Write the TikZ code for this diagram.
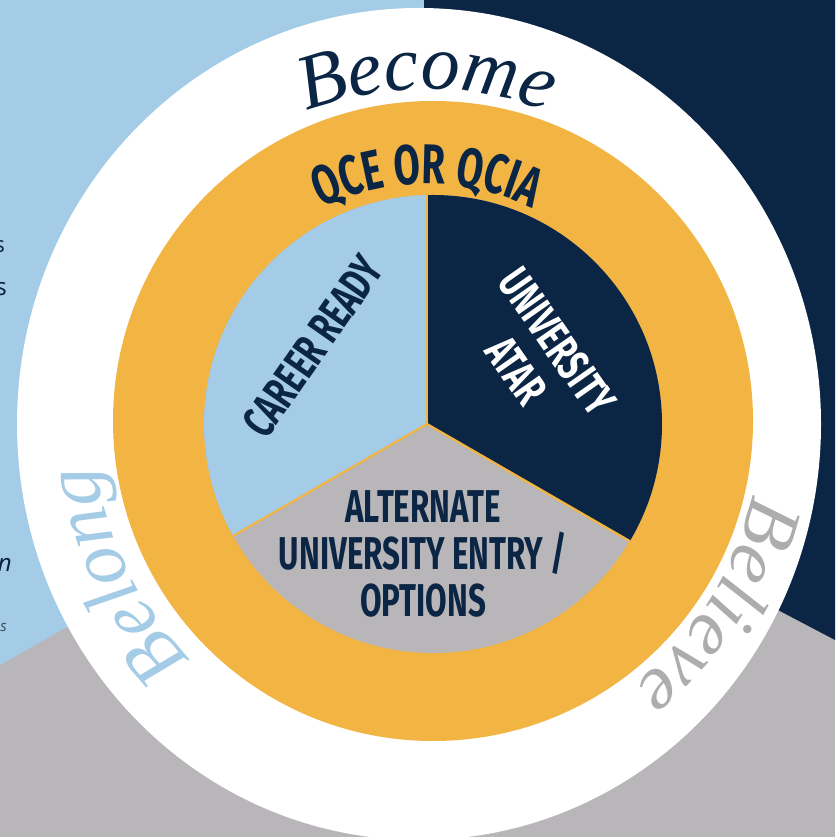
\documentclass[tikz,border=0pt]{standalone}
\usepackage{fontspec}
\usetikzlibrary{decorations.text}
\newfontfamily\bebas[FakeStretch=0.68]{Fira Sans}
\newfontfamily\handfont{Liberation Serif}
\newfontfamily\plainsans{Open Sans}
\definecolor{skyblue}{HTML}{A4CCE6}
\definecolor{navy}{HTML}{0B2545}
\definecolor{stone}{HTML}{B8B6B9}
\definecolor{gold}{HTML}{F2B443}
\definecolor{mist}{HTML}{ADACAE}

\begin{document}
\begin{tikzpicture}[x=1pt, y=1pt,
    caps/.style={font=\bebas\bfseries\fontsize{46}{47}\selectfont, align=center, inner sep=0pt},
    frag/.style={font=\plainsans, text=navy!85!black, inner sep=0pt, anchor=base east},
    divider/.style={gold, line width=2.2pt},
    ringtext/.style 2 args={decorate, decoration={text along path, text align=center, text color=#1, text={#2}}}
  ]
  \useasboundingbox (0,0) rectangle (835,837);
  \clip (0,0) rectangle (835,837);
  % backdrop
  \fill[stone] (0,0) rectangle (835,837);
  \fill[skyblue] (0,837) -- (424,837) -- (424,413) -- (0,172) -- cycle;
  \fill[navy] (424,837) -- (835,837) -- (835,197) -- (424,413) -- cycle;
  % text cut off at the left edge
  \node[frag, font=\plainsans\fontsize{22}{22}\selectfont] (fragA) at (5,584) {s};
  \node[frag, font=\plainsans\fontsize{24}{24}\selectfont] (fragB) at (7,541) {s};
  \node[frag, font=\plainsans\itshape\fontsize{24}{24}\selectfont] (fragC) at (12,265) {n};
  \node[frag, font=\plainsans\itshape\fontsize{15}{15}\selectfont, text=navy!60!gray] (fragD) at (7,205) {s};
  % rings
  \coordinate (c) at (427,413);
  \fill[white] (419,413) ellipse[x radius=402, y radius=416];
  \fill[gold] (433,416) circle[radius=320];
  \begin{scope}
    \clip (433,413) circle[radius=229];
    \coordinate (top) at (427,700);
    \coordinate (bl) at ([shift={(210:500)}]c);
    \coordinate (br) at ([shift={(330:500)}]c);
    \fill[stone] (433,413) circle[radius=229];
    \fill[skyblue] (c) -- (top) -- (-6,700) -- (bl) -- cycle;
    \fill[navy] (c) -- (top) -- (860,700) -- (br) -- cycle;
    \draw[divider] (c) -- (top);
    \draw[divider] (c) -- (bl);
    \draw[divider] (c) -- (br);
  \end{scope}
  % labels
  \node[caps, text=navy, rotate=55] (career) at (313,491) {CAREER READY};
  \node[caps, text=white, rotate=-55] (university) at (537,481) {UNIVERSITY\\[3pt]ATAR};
  \node[caps, text=navy] (alternate) at (423,283) {ALTERNATE\\UNIVERSITY ENTRY /\\OPTIONS};
  \path[ringtext={navy}{|\bebas\bfseries\fontsize{56}{56}\selectfont|QCE OR QCIA}]
    ([shift={(150:240)}]c) arc[start angle=150, end angle=30, radius=240];
  \path[ringtext={navy}{|\handfont\itshape\fontsize{78}{78}\selectfont|Become}]
    ([shift={(150:335)}]c) arc[start angle=150, end angle=30, radius=335];
  \path[ringtext={skyblue}{|\handfont\itshape\fontsize{78}{78}\selectfont|Belong}]
    ([shift={(266:333)}]c) arc[start angle=266, end angle=146, radius=333];
  \path[ringtext={mist}{|\handfont\itshape\fontsize{78}{78}\selectfont|Believe}]
    ([shift={(28:333)}]c) arc[start angle=28, end angle=-92, radius=333];
\end{tikzpicture}
\end{document}
